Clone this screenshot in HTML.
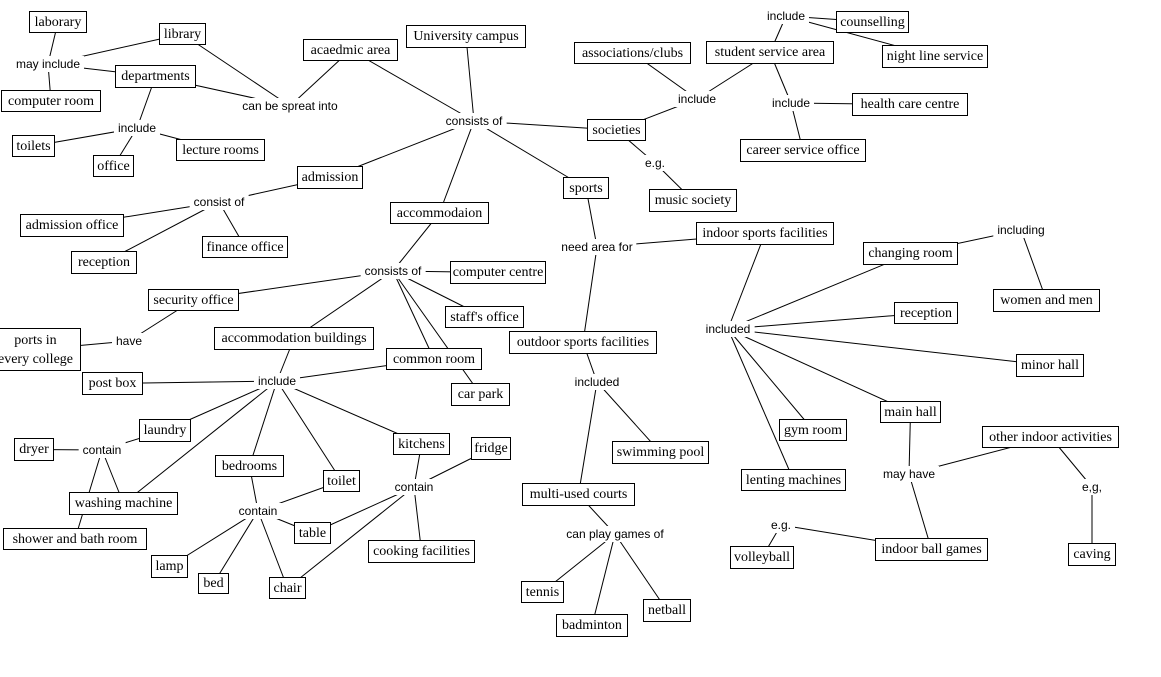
<!DOCTYPE html>
<html><head><meta charset="utf-8"><style>
body{margin:0;width:1161px;height:677px;background:#fff;position:relative;overflow:hidden}
svg{position:absolute;left:0;top:0}
.n{position:absolute;box-sizing:border-box;border:1px solid #000;background:#fff;font-family:"Liberation Serif",serif;font-size:14px;display:flex;align-items:center;justify-content:center;white-space:nowrap;line-height:19px;text-align:center}
.l{position:absolute;transform:translate(-50%,-50%);background:#fff;padding:1px 4px;font-family:"Liberation Sans",sans-serif;font-size:12px;white-space:nowrap}
</style></head><body>
<svg width="1161" height="677" id="s"></svg>
<div id="c"></div>
<script>
var N={
lab:[29,11,87,33,"laborary"],lib:[159,23,206,45,"library"],dep:[115,65,196,88,"departments"],
cr:[1,90,101,112,"computer room"],toi:[12,135,55,157,"toilets"],off:[93,155,134,177,"office"],
lec:[176,139,265,161,"lecture rooms"],aca:[303,39,398,61,"acaedmic area"],uni:[406,25,526,48,"University campus"],
ass:[574,42,691,64,"associations/clubs"],ssa:[706,41,834,64,"student service area"],cou:[836,11,909,33,"counselling"],
nls:[882,45,988,68,"night line service"],hcc:[852,93,968,116,"health care centre"],cso:[740,139,866,162,"career service office"],
soc:[587,119,646,141,"societies"],mus:[649,189,737,212,"music society"],spo:[563,177,609,199,"sports"],
adm:[297,166,363,189,"admission"],acc:[390,202,489,224,"accommodaion"],ado:[20,214,124,237,"admission office"],
fin:[202,236,288,258,"finance office"],recl:[71,251,137,274,"reception"],cc:[450,261,546,284,"computer centre"],
isf:[696,222,834,245,"indoor sports facilities"],chg:[863,242,958,265,"changing room"],wm:[993,289,1100,312,"women and men"],
sec:[148,289,239,311,"security office"],sta:[445,306,524,328,"staff's office"],recr:[894,302,958,324,"reception"],
por:[-10,328,81,371,"ports in<br>every college"],ab:[214,327,374,350,"accommodation buildings"],osf:[509,331,657,354,"outdoor sports facilities"],
com:[386,348,482,370,"common room"],mh:[1016,354,1084,377,"minor hall"],pb:[82,372,143,395,"post box"],
cp:[451,383,510,406,"car park"],mah:[880,401,941,423,"main hall"],lau:[139,419,191,442,"laundry"],
gym:[779,419,847,441,"gym room"],dry:[14,438,54,461,"dryer"],kit:[393,433,450,455,"kitchens"],
fri:[471,437,511,460,"fridge"],oia:[982,426,1119,448,"other indoor activities"],bed:[215,455,284,477,"bedrooms"],
tlt:[323,470,360,492,"toilet"],len:[741,469,846,491,"lenting machines"],muc:[522,483,635,506,"multi-used courts"],
wsh:[69,492,178,515,"washing machine"],tab:[294,522,331,544,"table"],sho:[3,528,147,550,"shower and bath room"],
coo:[368,540,475,563,"cooking facilities"],ibg:[875,538,988,561,"indoor ball games"],vol:[730,546,794,569,"volleyball"],
cav:[1068,543,1116,566,"caving"],swi:[612,441,709,464,"swimming pool"],lam:[151,555,188,578,"lamp"],
bd:[198,573,229,594,"bed"],cha:[269,577,306,599,"chair"],ten:[521,581,564,603,"tennis"],
net:[643,599,691,622,"netball"],bad:[556,614,628,637,"badminton"]};
var L=[
[48,64,"may include",["lab","lib","dep","cr"]],
[290,106,"can be spreat into",["lib","dep","aca"]],
[137,128,"include",["dep","toi","off","lec"]],
[474,121,"consists of",["aca","uni","soc","spo","adm","acc"]],
[697,99,"include",["ass","ssa","soc"]],
[786,16,"include",["ssa","cou","nls"]],
[791,103,"include",["ssa","hcc","cso"]],
[655,163,"e.g.",["soc","mus"]],
[219,202,"consist of",["adm","ado","fin","recl"]],
[597,247,"need area for",["spo","isf","osf"]],
[393,271,"consists of",["acc","cc","sec","sta","ab","com","cp"]],
[1021,230,"including",["chg","wm"]],
[728,329,"included",["isf","chg","recr","mh","mah","gym","len"]],
[129,341,"have",["sec","por"]],
[277,381,"include",["ab","pb","com","lau","wsh","bed","tlt","kit"]],
[597,382,"included",["osf","swi","muc"]],
[102,450,"contain",["lau","dry","wsh","sho"]],
[414,487,"contain",["kit","fri","coo","tab","cha"]],
[258,511,"contain",["bed","tlt","tab","lam","bd","cha"]],
[909,474,"may have",["mah","oia","ibg"]],
[781,525,"e.g.",["ibg","vol"]],
[1092,487,"e,g,",["oia","cav"]],
[615,534,"can play games of",["muc","ten","bad","net"]]];
var s="",h="";
L.forEach(function(l){l[3].forEach(function(k){var n=N[k];s+='<line x1="'+l[0]+'" y1="'+l[1]+'" x2="'+(n[0]+n[2])/2+'" y2="'+(n[1]+n[3])/2+'" stroke="#000" stroke-width="1"/>';});
h+='<div class="l" style="left:'+l[0]+'px;top:'+l[1]+'px">'+l[2]+'</div>';});
for(var k in N){var n=N[k];h+='<div class="n" style="left:'+n[0]+'px;top:'+n[1]+'px;width:'+(n[2]-n[0])+'px;height:'+(n[3]-n[1])+'px">'+n[4]+'</div>';}
document.getElementById("s").innerHTML=s;document.getElementById("c").innerHTML=h;
</script>
</body></html>
